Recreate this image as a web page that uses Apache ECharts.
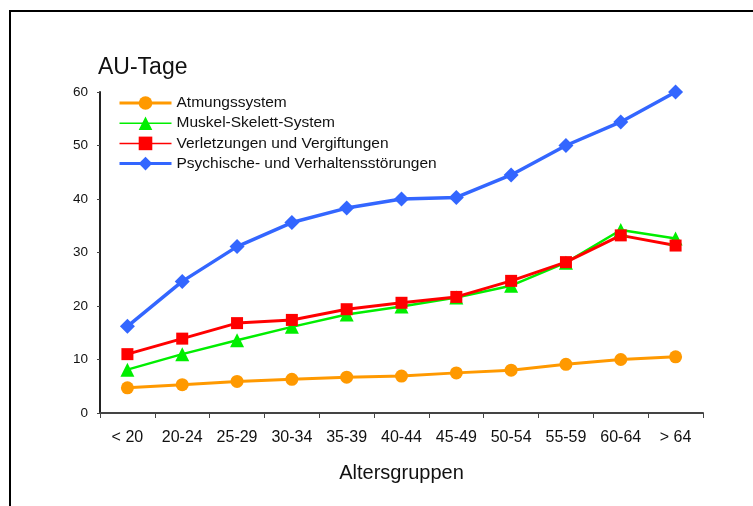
<!DOCTYPE html>
<html>
<head>
<meta charset="utf-8">
<script src="https://cdn.jsdelivr.net/npm/echarts@6/dist/echarts.min.js"></script>
<style>
  html, body { margin: 0; padding: 0; background: #fff; }
  #chart { width: 753px; height: 506px; }
</style>
</head>
<body>
<div id="chart"></div>
<script>
// Altersgruppen (x axis)
const ageGroups = ['< 20', '20-24', '25-29', '30-34', '35-39', '40-44', '45-49', '50-54', '55-59', '60-64', '> 64'];

// AU-Tage je Diagnosegruppe
const atmung = [4.7, 5.3, 5.9, 6.3, 6.7, 6.9, 7.5, 8.0, 9.1, 10.0, 10.5];
const muskelSkelett = [8.1, 11.0, 13.6, 16.1, 18.4, 19.9, 21.6, 23.8, 28.1, 34.2, 32.6];
const verletzungen = [11.0, 13.9, 16.8, 17.4, 19.4, 20.6, 21.7, 24.7, 28.2, 33.2, 31.3];
const psychisch = [16.2, 24.6, 31.1, 35.6, 38.3, 40.0, 40.3, 44.5, 50.0, 54.4, 60.0];

const seriesNames = ['Atmungssystem', 'Muskel-Skelett-System', 'Verletzungen und Vergiftungen', 'Psychische- und Verhaltensstörungen'];
const yTicks = [0, 10, 20, 30, 40, 50, 60];

const FONT = '"Liberation Sans", Arial, sans-serif';

const chart = echarts.init(document.getElementById('chart'), null, { renderer: 'canvas' });

function lineSeries(name, data, color, width, symbol, size) {
  return {
    name: name,
    type: 'line',
    data: data,
    clip: false,
    symbol: symbol,
    symbolSize: size,
    showAllSymbol: true,
    lineStyle: { color: color, width: width },
    itemStyle: { color: color, borderWidth: 0 },
    emphasis: { disabled: true },
    animation: false
  };
}

chart.setOption({
  backgroundColor: '#ffffff',
  animation: false,
  textStyle: { fontFamily: FONT },
  graphic: [
    {
      type: 'rect',
      shape: { x: 10, y: 11, width: 900, height: 700 },
      style: { fill: 'none', stroke: '#000', lineWidth: 2 },
      silent: true
    },
    {
      type: 'text',
      left: 98,
      top: 56,
      style: { text: 'AU-Tage', font: '23px ' + FONT, fill: '#111' }
    }
  ],
  legend: {
    orient: 'vertical',
    left: 113,
    top: 90,
    itemWidth: 52,
    itemHeight: 17,
    itemGap: 4.2,
    textStyle: { fontSize: 15.5, color: '#111', fontFamily: FONT },
    data: [
      { name: seriesNames[0], lineStyle: { width: 3 } },
      { name: seriesNames[1], lineStyle: { width: 1.5 } },
      { name: seriesNames[2], lineStyle: { width: 1.5 } },
      { name: seriesNames[3], lineStyle: { width: 3 } }
    ],
    selectedMode: false
  },
  grid: { left: 100, right: 50, top: 92, bottom: 93, containLabel: false },
  xAxis: {
    type: 'category',
    data: ageGroups,
    boundaryGap: true,
    name: 'Altersgruppen',
    nameLocation: 'middle',
    nameGap: 50,
    nameTextStyle: { fontSize: 20, color: '#111', fontFamily: FONT },
    axisLine: { lineStyle: { color: '#444', width: 2 } },
    axisTick: { show: true, length: 5, lineStyle: { color: '#444', width: 1 } },
    axisLabel: { fontSize: 16, color: '#111', margin: 17, interval: 0, fontFamily: FONT },
    splitLine: { show: false }
  },
  yAxis: {
    type: 'value',
    min: yTicks[0],
    max: yTicks[yTicks.length - 1],
    interval: 10,
    axisLine: { show: true, lineStyle: { color: '#222', width: 2 } },
    axisTick: { show: true, length: 3, lineStyle: { color: '#444', width: 1 } },
    axisLabel: { fontSize: 13.5, color: '#111', margin: 12, fontFamily: FONT },
    splitLine: { show: false }
  },
  series: [
    lineSeries(seriesNames[0], atmung, '#FF9900', 3, 'circle', 13),
    lineSeries(seriesNames[1], muskelSkelett, '#00EE00', 2.5, 'triangle', 14),
    lineSeries(seriesNames[2], verletzungen, '#FF0000', 3, 'rect', 12),
    lineSeries(seriesNames[3], psychisch, '#3366FF', 3.5, 'diamond', 15)
  ]
});
</script>
</body>
</html>
